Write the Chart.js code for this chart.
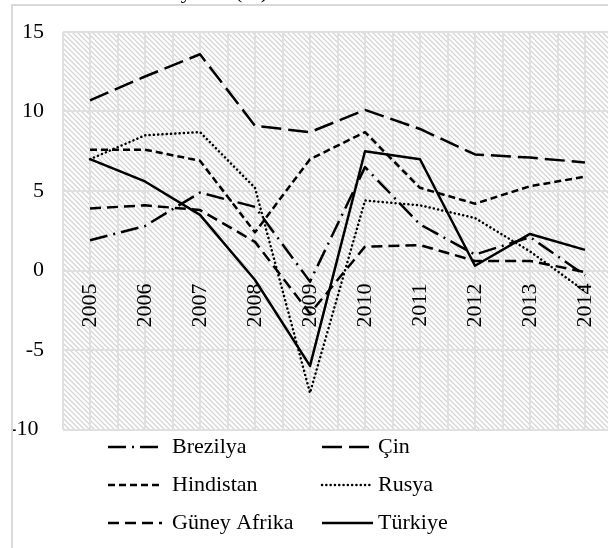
<!DOCTYPE html>
<html>
<head>
<meta charset="utf-8">
<script src="https://cdn.jsdelivr.net/npm/chart.js@4.4.0/dist/chart.umd.min.js"></script>
<style>
    html, body { margin: 0; padding: 0; overflow: hidden; background: #fff; }
    canvas { display: block; }
</style>
</head>
<body>
<canvas id="chart" width="630" height="548"></canvas>
<script>
// Data
const years = ['2005', '2006', '2007', '2008', '2009', '2010', '2011', '2012', '2013', '2014'];
const brezilya = [1.9, 2.8, 4.9, 4.0, -0.7, 6.5, 2.9, 1.0, 2.1, -0.3];
const cin = [10.7, 12.2, 13.6, 9.1, 8.7, 10.1, 8.9, 7.3, 7.1, 6.8];
const hindistan = [7.6, 7.6, 6.9, 2.4, 7.0, 8.7, 5.2, 4.2, 5.3, 5.9];
const rusya = [7.0, 8.5, 8.7, 5.2, -7.7, 4.4, 4.1, 3.3, 1.2, -1.3];
const guneyAfrika = [3.9, 4.1, 3.8, 1.8, -2.7, 1.5, 1.6, 0.6, 0.6, -0.1];
const turkiye = [7.0, 5.6, 3.5, -0.6, -6.0, 7.5, 7.0, 0.3, 2.3, 1.3];
const yTicks = [-10, -5, 0, 5, 10, 15];

const titleText = 'Büyüme (%)';
const font = '"Liberation Serif", "Times New Roman", serif';

// Diagonal hatch for the plot area
function makeHatch() {
    const c = document.createElement('canvas');
    c.width = 5;
    c.height = 5;
    const cx = c.getContext('2d');
    const img = cx.createImageData(5, 5);
    for (let y = 0; y < 5; y++) {
        for (let x = 0; x < 5; x++) {
            const k = (((x - y) % 5) + 5) % 5;
            let v = 255;
            if (k === 0) v = 212;
            else if (k === 1 || k === 4) v = 238;
            const i = (y * 5 + x) * 4;
            img.data[i] = img.data[i + 1] = img.data[i + 2] = v;
            img.data[i + 3] = 255;
        }
    }
    cx.putImageData(img, 0, 0);
    return c;
}

const hatchPlugin = {
    id: 'hatch',
    beforeDraw(chart) {
        const { ctx, chartArea } = chart;
        ctx.save();
        ctx.fillStyle = ctx.createPattern(makeHatch(), 'repeat');
        ctx.fillRect(chartArea.left, chartArea.top, chartArea.right - chartArea.left, chartArea.bottom - chartArea.top);
        ctx.restore();
    }
};

// Frame, cut title and two-column legend
const framePlugin = {
    id: 'frame',
    afterDraw(chart) {
        const { ctx } = chart;
        ctx.save();

        // title, only its lower edge is visible
        ctx.fillStyle = '#000';
        ctx.font = `22px ${font}`;
        ctx.textAlign = 'right';
        ctx.textBaseline = 'alphabetic';
        ctx.fillText(titleText, 268, -2);

        // outer chart border
        ctx.strokeStyle = '#d9d9d9';
        ctx.lineWidth = 2;
        ctx.beginPath();
        ctx.moveTo(12, chart.height);
        ctx.lineTo(12, 5);
        ctx.lineTo(chart.width, 5);
        ctx.stroke();

        // legend
        const cols = [{ x0: 108, x1: 162, tx: 172 }, { x0: 322, x1: 373, tx: 378 }];
        const rows = [447, 485, 523];
        chart.data.datasets.forEach((ds, i) => {
            const col = cols[i % 2];
            const y = rows[Math.floor(i / 2)];
            ctx.save();
            ctx.strokeStyle = ds.borderColor;
            ctx.lineWidth = ds.borderWidth;
            ctx.lineCap = ds.borderCapStyle || 'butt';
            ctx.setLineDash(ds.borderDash || []);
            ctx.beginPath();
            ctx.moveTo(col.x0, y);
            ctx.lineTo(col.x1, y);
            ctx.stroke();
            ctx.restore();
            ctx.fillStyle = '#000';
            ctx.textAlign = 'left';
            ctx.textBaseline = 'middle';
            ctx.fillText(ds.label, col.tx, y);
        });
        ctx.restore();
    }
};

function series(label, data, dash, cap) {
    return {
        label,
        data,
        borderColor: '#000',
        borderWidth: 2.5,
        borderDash: dash,
        borderCapStyle: cap || 'butt',
        borderJoinStyle: 'round',
        pointRadius: 0,
        fill: false,
        tension: 0
    };
}

new Chart(document.getElementById('chart'), {
    type: 'line',
    data: {
        labels: years,
        datasets: [
            series('Brezilya', brezilya, [18, 6, 2, 6]),
            series('Çin', cin, [20, 7]),
            series('Hindistan', hindistan, [7, 4]),
            series('Rusya', rusya, [0.1, 4.2], 'round'),
            series('Güney Afrika', guneyAfrika, [11, 6]),
            series('Türkiye', turkiye, [])
        ]
    },
    options: {
        responsive: false,
        animation: false,
        devicePixelRatio: 1,
        layout: {
            padding: { left: 12.5, top: 32, right: 17.5, bottom: 118.5 }
        },
        plugins: {
            legend: { display: false },
            tooltip: { enabled: false }
        },
        scales: {
            x: {
                type: 'category',
                position: { y: 0 },
                offset: true,
                border: { display: false },
                grid: { color: '#e0e0e0', lineWidth: 2, offset: false, drawTicks: false },
                ticks: {
                    autoSkip: false,
                    minRotation: 90,
                    maxRotation: 90,
                    padding: 13,
                    color: '#000',
                    font: { family: font, size: 22 }
                }
            },
            x2: {
                type: 'category',
                labels: years,
                position: { y: 0 },
                offset: true,
                border: { display: false },
                grid: { color: '#e0e0e0', lineWidth: 2, offset: true, drawTicks: false },
                ticks: { display: false }
            },
            y: {
                min: -10,
                max: 15,
                afterFit(scale) {
                    scale.width = 50;
                },
                afterBuildTicks(scale) {
                    scale.ticks = yTicks.map(v => ({ value: v }));
                },
                border: { display: false },
                grid: { color: '#e0e0e0', lineWidth: 2, drawTicks: false },
                ticks: {
                    padding: 18.5,
                    color: '#000',
                    font: { family: font, size: 22 },
                    // the lowest label sits a little further left in the original
                    callback: v => (v === -10 ? '-10 ' : String(v))
                }
            }
        }
    },
    plugins: [hatchPlugin, framePlugin]
});
</script>
</body>
</html>
